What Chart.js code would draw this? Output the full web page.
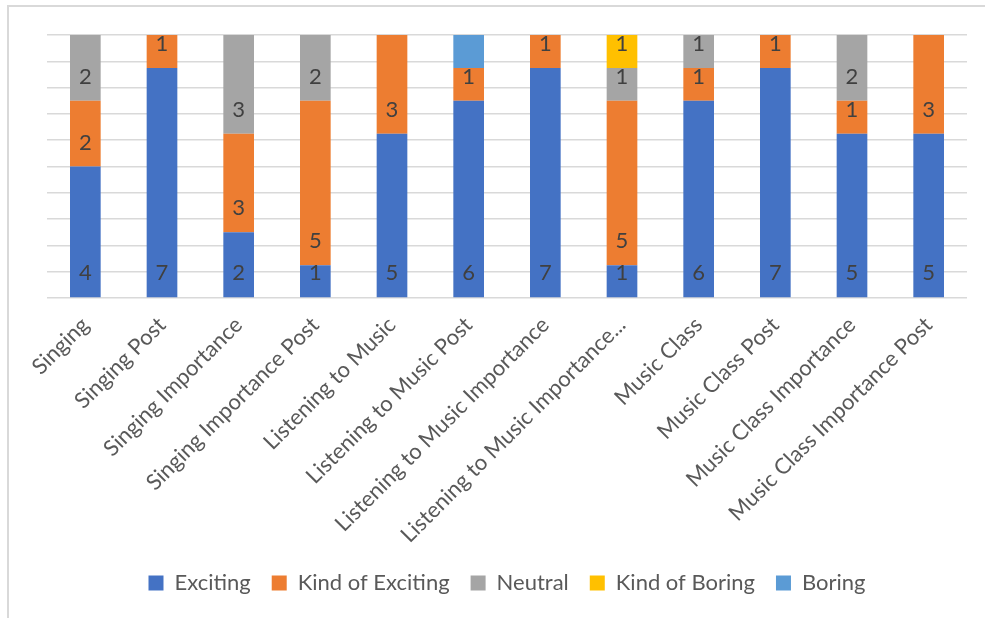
<!DOCTYPE html>
<html>
<head>
<meta charset="utf-8">
<script src="https://cdn.jsdelivr.net/npm/chart.js@4"></script>
<style>
  html, body { margin: 0; padding: 0; background: #ffffff; }
  #wrap { width: 985px; height: 618px; position: relative; }
</style>
</head>
<body>
<div id="wrap"><canvas id="c" width="985" height="618"></canvas></div>
<script>
const categories = [
  "Singing", "Singing Post", "Singing Importance", "Singing Importance Post",
  "Listening to Music", "Listening to Music Post", "Listening to Music Importance",
  "Listening to Music Importance...", "Music Class", "Music Class Post",
  "Music Class Importance", "Music Class Importance Post"
];
const exciting       = [4, 7, 2, 1, 5, 6, 7, 1, 6, 7, 5, 5];
const kindOfExciting = [2, 1, 3, 5, 3, 1, 1, 5, 1, 1, 1, 3];
const neutral        = [2, 0, 3, 2, 0, 0, 0, 1, 1, 0, 2, 0];
const kindOfBoring   = [0, 0, 0, 0, 0, 0, 0, 1, 0, 0, 0, 0];
const boring         = [0, 0, 0, 0, 0, 1, 0, 0, 0, 0, 0, 0];
const gridValues     = [0, 0.8, 1.6, 2.4, 3.2, 4, 4.8, 5.6, 6.4, 7.2, 8];

const FONT = "Lato";

const frame = {
  id: "frame",
  beforeDraw(chart) {
    const ctx = chart.ctx;
    ctx.save();
    ctx.fillStyle = "#ffffff";
    ctx.fillRect(0, 0, chart.width, chart.height);
    ctx.strokeStyle = "#d9d9d9";
    ctx.lineWidth = 2;
    ctx.strokeRect(8, 6, 1100, 1100);
    ctx.restore();
  }
};

const valueLabels = {
  id: "valueLabels",
  afterDatasetsDraw(chart) {
    const ctx = chart.ctx;
    ctx.save();
    ctx.font = "22px " + FONT;
    ctx.fillStyle = "#404040";
    ctx.textAlign = "center";
    ctx.textBaseline = "alphabetic";
    chart.data.datasets.forEach((ds, i) => {
      if (ds.label === "Boring") return;
      const meta = chart.getDatasetMeta(i);
      meta.data.forEach((el, j) => {
        const v = ds.data[j];
        if (!v) return;
        ctx.fillText(String(v), el.x, el.base - 17);
      });
    });
    ctx.restore();
  }
};

const mk = (label, data, color) => ({
  label, data, backgroundColor: color, borderWidth: 0,
  barPercentage: 0.4, categoryPercentage: 1.0
});

new Chart(document.getElementById("c"), {
  type: "bar",
  data: {
    labels: categories,
    datasets: [
      mk("Exciting", exciting, "#4472C4"),
      mk("Kind of Exciting", kindOfExciting, "#ED7D31"),
      mk("Neutral", neutral, "#A5A5A5"),
      mk("Kind of Boring", kindOfBoring, "#FFC000"),
      mk("Boring", boring, "#5B9BD5")
    ]
  },
  options: {
    responsive: false,
    animation: false,
    layout: { padding: { left: 47, right: 18, top: 35, bottom: 14 } },
    plugins: {
      tooltip: { enabled: false },
      legend: {
        position: "bottom",
        labels: {
          boxWidth: 15, boxHeight: 15, padding: 21,
          color: "#595959",
          font: { family: FONT, size: 22 }
        }
      }
    },
    scales: {
      x: {
        stacked: true,
        grid: { display: false },
        border: { display: false },
        ticks: {
          autoSkip: false, minRotation: 45, maxRotation: 45,
          color: "#595959", font: { family: FONT, size: 22 }, padding: 6
        },
        afterFit(s) { s.height = 253; }
      },
      y: {
        stacked: true,
        min: 0, max: 8,
        border: { display: false },
        grid: { color: "#d9d9d9", lineWidth: 1.5, drawTicks: false },
        ticks: { display: false },
        afterBuildTicks(s) { s.ticks = gridValues.map(v => ({ value: v })); }
      }
    }
  },
  plugins: [frame, valueLabels]
});
</script>
</body>
</html>
